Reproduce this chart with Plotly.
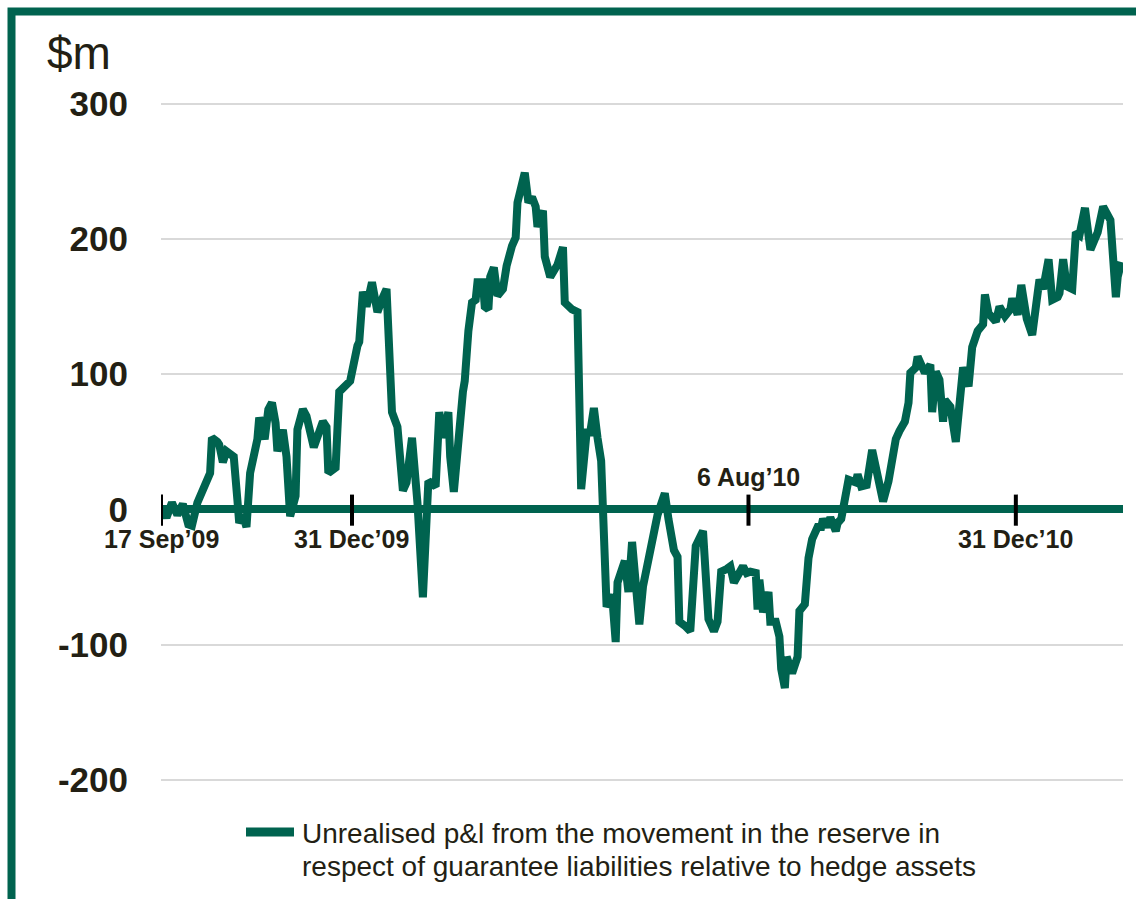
import plotly.graph_objects as go

# ---- data ----
dates = [
    "2009-09-18", "2009-09-20", "2009-09-23", "2009-09-26", "2009-09-29", "2009-10-02", "2009-10-04", "2009-10-07",
    "2009-10-14", "2009-10-15", "2009-10-18", "2009-10-19", "2009-10-21", "2009-10-23", "2009-10-25", "2009-10-27",
    "2009-10-29", "2009-10-30", "2009-11-01", "2009-11-03", "2009-11-05", "2009-11-09", "2009-11-10", "2009-11-13",
    "2009-11-15", "2009-11-17", "2009-11-19", "2009-11-20", "2009-11-23", "2009-11-25", "2009-11-27", "2009-11-30",
    "2009-12-01", "2009-12-04", "2009-12-06", "2009-12-10", "2009-12-15", "2009-12-17", "2009-12-18", "2009-12-22",
    "2009-12-24", "2009-12-28", "2009-12-30", "2010-01-03", "2010-01-04", "2010-01-06", "2010-01-08", "2010-01-11",
    "2010-01-14", "2010-01-17", "2010-01-19", "2010-01-22", "2010-01-25", "2010-01-28", "2010-01-30", "2010-02-02",
    "2010-02-05", "2010-02-08", "2010-02-11", "2010-02-15", "2010-02-17", "2010-02-19", "2010-02-22", "2010-02-23",
    "2010-02-25", "2010-03-02", "2010-03-03", "2010-03-05", "2010-03-07", "2010-03-09", "2010-03-10", "2010-03-13",
    "2010-03-14", "2010-03-16", "2010-03-17", "2010-03-19", "2010-03-21", "2010-03-24", "2010-03-26", "2010-03-29",
    "2010-03-31", "2010-04-01", "2010-04-04", "2010-04-05", "2010-04-07", "2010-04-09", "2010-04-11", "2010-04-12",
    "2010-04-15", "2010-04-16", "2010-04-19", "2010-04-21", "2010-04-23", "2010-04-26", "2010-04-27", "2010-05-01",
    "2010-05-04", "2010-05-06", "2010-05-09", "2010-05-11", "2010-05-13", "2010-05-15", "2010-05-17", "2010-05-20",
    "2010-05-23", "2010-05-25", "2010-05-26", "2010-05-30", "2010-06-01", "2010-06-03", "2010-06-05", "2010-06-07",
    "2010-06-09", "2010-06-13", "2010-06-16", "2010-06-17", "2010-06-19", "2010-06-21", "2010-06-23", "2010-06-26",
    "2010-06-28", "2010-06-29", "2010-07-02", "2010-07-05", "2010-07-08", "2010-07-10", "2010-07-12", "2010-07-15",
    "2010-07-18", "2010-07-20", "2010-07-22", "2010-07-25", "2010-07-27", "2010-07-29", "2010-07-31", "2010-08-03",
    "2010-08-05", "2010-08-07", "2010-08-10", "2010-08-11", "2010-08-12", "2010-08-14", "2010-08-17", "2010-08-18",
    "2010-08-21", "2010-08-23", "2010-08-24", "2010-08-26", "2010-08-27", "2010-08-29", "2010-08-30", "2010-09-02",
    "2010-09-03", "2010-09-06", "2010-09-08", "2010-09-10", "2010-09-13", "2010-09-15", "2010-09-16", "2010-09-18",
    "2010-09-20", "2010-09-23", "2010-09-24", "2010-09-26", "2010-09-28", "2010-09-30", "2010-10-04", "2010-10-05",
    "2010-10-07", "2010-10-10", "2010-10-13", "2010-10-16", "2010-10-19", "2010-10-22", "2010-10-24", "2010-10-26",
    "2010-10-28", "2010-10-31", "2010-11-02", "2010-11-03", "2010-11-06", "2010-11-07", "2010-11-10", "2010-11-11",
    "2010-11-14", "2010-11-15", "2010-11-17", "2010-11-19", "2010-11-21", "2010-11-22", "2010-11-25", "2010-11-28",
    "2010-12-02", "2010-12-05", "2010-12-07", "2010-12-09", "2010-12-10", "2010-12-13", "2010-12-14", "2010-12-16",
    "2010-12-20", "2010-12-22", "2010-12-25", "2010-12-28", "2010-12-29", "2011-01-01", "2011-01-03", "2011-01-06",
    "2011-01-09", "2011-01-12", "2011-01-13", "2011-01-15", "2011-01-18", "2011-01-20", "2011-01-23", "2011-01-24",
    "2011-01-26", "2011-01-28", "2011-01-31", "2011-02-02", "2011-02-04", "2011-02-07", "2011-02-10", "2011-02-14",
    "2011-02-17", "2011-02-21", "2011-02-24", "2011-02-25", "2011-02-27",
]
pnl = [
    0, -6, 5, -4, 4, -11, -12, 5,
    27, 53, 50, 48, 35, 43, 41, 39,
    7, -10, -4, -13, 27, 52, 68, 52,
    74, 79, 64, 43, 59, 39, -5, 10,
    59, 74, 69, 46, 65, 61, 27, 31,
    87, 92, 95, 121, 124, 161, 150, 168,
    146, 157, 163, 72, 61, 14, 20, 53,
    5, -65, 21, 17, 72, 53, 72, 39,
    13, 87, 95, 132, 153, 155, 168, 168,
    150, 148, 172, 179, 158, 163, 180, 195,
    201, 227, 242, 249, 227, 231, 224, 209,
    221, 187, 172, 176, 181, 194, 153, 148,
    146, 15, 57, 57, 75, 53, 36, -72,
    -63, -98, -54, -38, -61, -24, -57, -85,
    -57, -30, -7, -4, 4, 12, -7, -30,
    -35, -83, -86, -90, -27, -22, -16, -81,
    -90, -83, -46, -44, -42, -54, -49, -42,
    -47, -46, -47, -74, -52, -76, -61, -83,
    -83, -94, -118, -132, -109, -118, -121, -109,
    -75, -70, -36, -22, -13, -13, -7, -13,
    -6, -16, -10, -7, 10, 22, 20, 26,
    17, 18, 44, 22, 6, 21, 39, 52,
    58, 65, 79, 101, 105, 113, 104, 101,
    107, 72, 102, 96, 65, 81, 76, 50,
    105, 91, 120, 126, 132, 137, 159, 145,
    139, 150, 143, 148, 156, 144, 166, 141,
    129, 160, 170, 163, 185, 155, 157, 160,
    185, 165, 163, 205, 203, 223, 192, 205,
    224, 214, 157, 172, 183,
]

tick_dates = ["2009-09-17", "2009-12-31", "2010-08-06", "2010-12-31"]
tick_labels = ["17 Sep\u201909", "31 Dec\u201909", "6 Aug\u201910", "31 Dec\u201910"]
tick_label_above = [False, False, True, False]
y_ticks = [300, 200, 100, 0, -100, -200]
legend_lines = ["Unrealised p&l from the movement in the reserve in",
                "respect of guarantee liabilities relative to hedge assets"]
unit_label = "$m"

# ---- styling / layout ----
GREEN = "#00634f"
TEXT = "#231f14"
FONT = "Liberation Sans, Arial, sans-serif"
W, H = 1136, 899
ML, MR, MT, MB = 161, 13, 97, 92
PW, PH = W - ML - MR, H - MT - MB

def px_x(p):
    return (p - ML) / PW

def px_y(p):
    return (H - MB - p) / PH

fig = go.Figure()
fig.add_trace(go.Scatter(
    x=dates, y=pnl, mode="lines",
    line=dict(color=GREEN, width=8),
    showlegend=False, hoverinfo="x+y",
))

shapes = []
for d in tick_dates:
    shapes.append(dict(type="line", xref="x", yref="y", x0=d, x1=d, y0=-12, y1=11,
                       line=dict(color="#000000", width=4), layer="above"))
shapes.append(dict(type="rect", xref="paper", yref="paper",
                   x0=px_x(11.5), x1=px_x(W + 40), y0=px_y(H + 40), y1=px_y(11.5),
                   line=dict(color=GREEN, width=8), fillcolor="rgba(0,0,0,0)", layer="below"))
shapes.append(dict(type="line", xref="paper", yref="paper",
                   x0=px_x(246), x1=px_x(294), y0=px_y(832), y1=px_y(832),
                   line=dict(color=GREEN, width=9)))

annotations = []
for d, lab, above in zip(tick_dates, tick_labels, tick_label_above):
    annotations.append(dict(
        x=d, xref="x", y=px_y(477 if above else 539), yref="paper",
        text=lab, showarrow=False, xanchor="center", yanchor="middle",
        font=dict(family=FONT, size=25, color=TEXT, weight="bold"),
    ))
annotations.append(dict(
    x=px_x(79), y=px_y(53), xref="paper", yref="paper", text=unit_label,
    showarrow=False, xanchor="center", yanchor="middle",
    font=dict(family=FONT, size=46, color=TEXT),
))
for i, line in enumerate(legend_lines):
    annotations.append(dict(
        x=px_x(300), y=px_y(833 + 34 * i), xref="paper", yref="paper", text=line,
        showarrow=False, xanchor="left", yanchor="middle", align="left",
        font=dict(family=FONT, size=28, color=TEXT),
    ))

fig.update_layout(
    width=W, height=H,
    margin=dict(l=ML, r=MR, t=MT, b=MB, pad=0),
    paper_bgcolor="white", plot_bgcolor="white",
    shapes=shapes, annotations=annotations,
    xaxis=dict(
        type="date", range=["2009-09-17", "2011-02-27 22:00"],
        showgrid=False, showticklabels=False, ticks="", zeroline=False,
        showline=False, fixedrange=True,
    ),
    yaxis=dict(
        range=[-220, 305], tickvals=y_ticks, ticktext=[str(v) for v in y_ticks],
        showgrid=True, gridcolor="#d9d9d9", gridwidth=2,
        zeroline=True, zerolinecolor=GREEN, zerolinewidth=8,
        showline=False, ticks="", ticklabelstandoff=32,
        tickfont=dict(family=FONT, size=35, color=TEXT, weight="bold"),
        fixedrange=True,
    ),
    font=dict(family=FONT, color=TEXT),
)

fig.write_html(
    "out.html",
    config={"displayModeBar": False},
    post_script="document.body.style.margin='0px';document.body.style.overflow='hidden';",
)
